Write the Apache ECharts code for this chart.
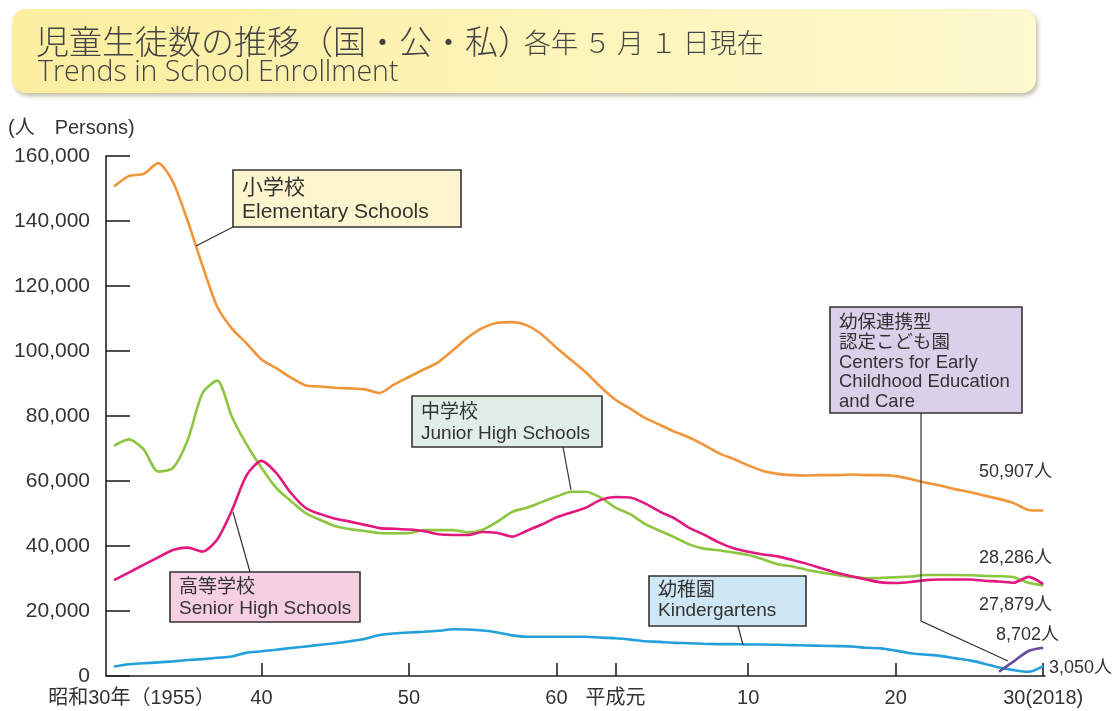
<!DOCTYPE html>
<html><head><meta charset="utf-8">
<script src="https://cdn.jsdelivr.net/npm/echarts@6/dist/echarts.min.js"></script>
<style>html,body{margin:0;padding:0;background:#fff}#c{width:1116px;height:711px}</style>
</head><body><div id="c"></div><script>
const years = [1955,1956,1957,1958,1959,1960,1961,1962,1963,1964,1965,1966,1967,1968,1969,1970,1971,1972,1973,1974,1975,1976,1977,1978,1979,1980,1981,1982,1983,1984,1985,1986,1987,1988,1989,1990,1991,1992,1993,1994,1995,1996,1997,1998,1999,2000,2001,2002,2003,2004,2005,2006,2007,2008,2009,2010,2011,2012,2013,2014,2015,2016,2017,2018];
const elementary = [150600,153800,154500,157800,152000,140000,126300,113600,106900,102300,97400,94700,91800,89400,89100,88700,88500,88200,87100,89700,92000,94300,96600,100300,104200,107100,108700,108900,107900,105100,101000,97200,93400,88900,85000,82300,79400,77300,75200,73400,71100,68600,66800,64800,63100,62200,61800,61700,61800,61800,62000,61800,61800,61500,60600,59500,58600,57500,56600,55500,54500,53200,51100,50907];
const juniorHigh = [70800,72800,69800,62900,64000,72600,87000,90900,79700,71200,64100,57900,53800,50100,48000,46100,45200,44600,44000,43900,44000,44900,44900,44900,44200,45000,47500,50500,51800,53500,55200,56700,56700,54900,51800,49800,46800,44700,42700,40500,39200,38700,38000,37200,35900,34400,33700,32600,31800,31100,30500,30100,30200,30400,30600,31100,31100,31100,31000,30800,30700,30400,28700,27879];
const seniorHigh = [29500,31800,34200,36500,38800,39500,38300,42000,51000,61800,66200,62500,56300,51700,49800,48400,47500,46500,45500,45300,45100,44600,43600,43400,43400,44300,44000,42900,44700,46600,48800,50300,51800,54200,55100,54900,53100,50600,48500,45600,43500,41100,39300,38200,37400,36800,35700,34500,33100,31800,30700,29700,28800,28600,28900,29500,29700,29700,29700,29300,29100,28700,30500,28286];
const kindergarten = [2900,3600,3900,4200,4500,4900,5200,5600,6000,7200,7600,8100,8600,9100,9600,10100,10700,11400,12600,13100,13400,13600,13900,14400,14300,14000,13400,12500,12100,12100,12100,12100,12100,11800,11600,11200,10700,10500,10200,10100,9900,9800,9800,9700,9700,9600,9500,9400,9300,9200,9100,8700,8500,7800,7000,6600,6200,5500,4800,3800,2600,1800,1300,3050];
const centerYears = [2015,2016,2017,2018];
const centers = [1300,4500,7700,8702];
const xLabelValues = [1956.19,1965,1975,1985,1989,1998,2008,2018];
const xLabelTexts = ['昭和30年（1955）','40','50','60','平成元','10','20','30(2018)'];
const xTickValues = [1965,1975,1985,1989,1998,2008,2018];

const FONT = "'Liberation Sans','Noto Sans CJK JP',sans-serif";
const TXT = '#333';
const pair = (xs, ys) => xs.map((x, i) => [x, ys[i]]);
const fmt = v => v.toLocaleString('en-US');
const last = a => a[a.length - 1];

const chart = echarts.init(document.getElementById('c'), null, {renderer: 'canvas'});

function lineSeries(name, data, color) {
  return {
    name, type: 'line', data, smooth: 0.25, showSymbol: false, symbol: 'none',
    lineStyle: {color, width: 2.6}, itemStyle: {color}, z: 3, animation: false
  };
}

function box(x, y, w, h, fill, lines, off, lh, fs) {
  const els = [{
    type: 'rect', z: 100,
    shape: {x, y, width: w, height: h},
    style: {fill, stroke: '#333', lineWidth: 1.6}
  }];
  lines.forEach((t, i) => {
    els.push({
      type: 'text', z: 101,
      style: {text: t, x: x + 9, y: y + off + i * lh, fill: TXT, font: `${fs}px ${FONT}`, verticalAlign: 'middle', align: 'left'}
    });
  });
  return els;
}
function leader(points) {
  return {type: 'polyline', z: 99, shape: {points}, style: {stroke: '#333', lineWidth: 1.2, fill: null}};
}
function valueLabel(text, x, y, align) {
  return {type: 'text', z: 101, style: {text, x, y, align, verticalAlign: 'middle', fill: TXT, font: `18px ${FONT}`}};
}

const graphics = [
  {
    type: 'rect', z: 0,
    shape: {x: 12, y: 9, width: 1024, height: 84, r: 14},
    style: {
      fill: new echarts.graphic.LinearGradient(0, 0, 1, 0, [{offset: 0, color: '#fbee9f'}, {offset: 1, color: '#fef9cf'}]),
      shadowBlur: 4, shadowOffsetX: 2, shadowOffsetY: 3, shadowColor: 'rgba(120,110,60,0.45)'
    }
  },
  {type: 'text', z: 1, style: {text: '児童生徒数の推移（国・公・私）', x: 36, y: 41, fill: '#444', font: `300 33px 'Noto Sans CJK JP',sans-serif`, verticalAlign: 'middle'}},
  {type: 'text', z: 1, style: {text: '各年 ５ 月 １ 日現在', x: 524, y: 43, fill: '#444', font: `300 27px 'Noto Sans CJK JP',sans-serif`, verticalAlign: 'middle'}},
  {type: 'text', z: 1, style: {text: 'Trends in School Enrollment', x: 38, y: 73, fill: '#444', font: `300 28.5px 'Open Sans',sans-serif`, verticalAlign: 'middle'}},
  {type: 'text', z: 1, style: {text: '(人　Persons)', x: 8, y: 128, fill: TXT, font: `20px ${FONT}`, verticalAlign: 'middle'}},
  ...box(233, 170, 228, 57, '#fcf5cd', ['小学校', 'Elementary Schools'], 18, 24, 21),
  leader([[233, 227], [196, 246]]),
  ...box(412, 396, 190, 51, '#e0eee6', ['中学校', 'Junior High Schools'], 17, 21, 19),
  leader([[563, 447], [571, 490]]),
  ...box(170, 572, 190, 50, '#f6d0e1', ['高等学校', 'Senior High Schools'], 16, 21, 19),
  leader([[250, 572], [233, 512]]),
  ...box(649, 576, 157, 50, '#cfe6f5', ['幼稚園', 'Kindergartens'], 15, 20, 19),
  leader([[738, 626], [743, 645]]),
  ...box(830, 307, 192, 106, '#d9d0ea', ['幼保連携型', '認定こども園', 'Centers for Early', 'Childhood Education', 'and Care'], 16, 19.8, 18.5),
  leader([[921, 413], [921, 621], [1008, 661]]),
  valueLabel(fmt(last(elementary)) + '人', 1052, 472, 'right'),
  valueLabel(fmt(last(seniorHigh)) + '人', 1052, 558, 'right'),
  valueLabel(fmt(last(juniorHigh)) + '人', 1052, 605, 'right'),
  valueLabel(fmt(last(centers)) + '人', 1059, 635, 'right'),
  valueLabel(fmt(last(kindergarten)) + '人', 1049, 668, 'left')
];

const option = {
  backgroundColor: '#fff',
  animation: false,
  grid: {left: 106, right: 71, top: 156, bottom: 35, containLabel: false},
  xAxis: {
    type: 'value', min: 1954.46, max: 2018.12,
    splitLine: {show: false},
    axisLine: {show: true, lineStyle: {color: '#222', width: 1.6}},
    axisTick: {show: true, inside: true, length: 13, customValues: xTickValues, lineStyle: {color: '#222', width: 1.6}},
    axisLabel: {
      customValues: xLabelValues, color: TXT, fontSize: 20, fontFamily: FONT, margin: 12,
      formatter: v => {
        let bi = 0, bd = 1e9;
        xLabelValues.forEach((x, i) => { const d = Math.abs(x - v); if (d < bd) { bd = d; bi = i; } });
        return xLabelTexts[bi];
      }
    }
  },
  yAxis: {
    type: 'value', min: 0, max: 160000, interval: 20000,
    splitLine: {show: false},
    axisLine: {show: true, lineStyle: {color: '#222', width: 1.6}},
    axisTick: {show: true, inside: true, length: 24, lineStyle: {color: '#222', width: 1.6}},
    axisLabel: {color: TXT, fontSize: 21, fontFamily: FONT, margin: 16, formatter: v => fmt(v)}
  },
  series: [
    lineSeries('小学校', pair(years, elementary), '#f0953a'),
    lineSeries('中学校', pair(years, juniorHigh), '#8cc63f'),
    lineSeries('高等学校', pair(years, seniorHigh), '#e2187f'),
    lineSeries('幼稚園', pair(years, kindergarten), '#239fd9'),
    lineSeries('幼保連携型認定こども園', pair(centerYears, centers), '#6a4a9c')
  ],
  graphic: graphics
};
chart.setOption(option);
</script></body></html>
